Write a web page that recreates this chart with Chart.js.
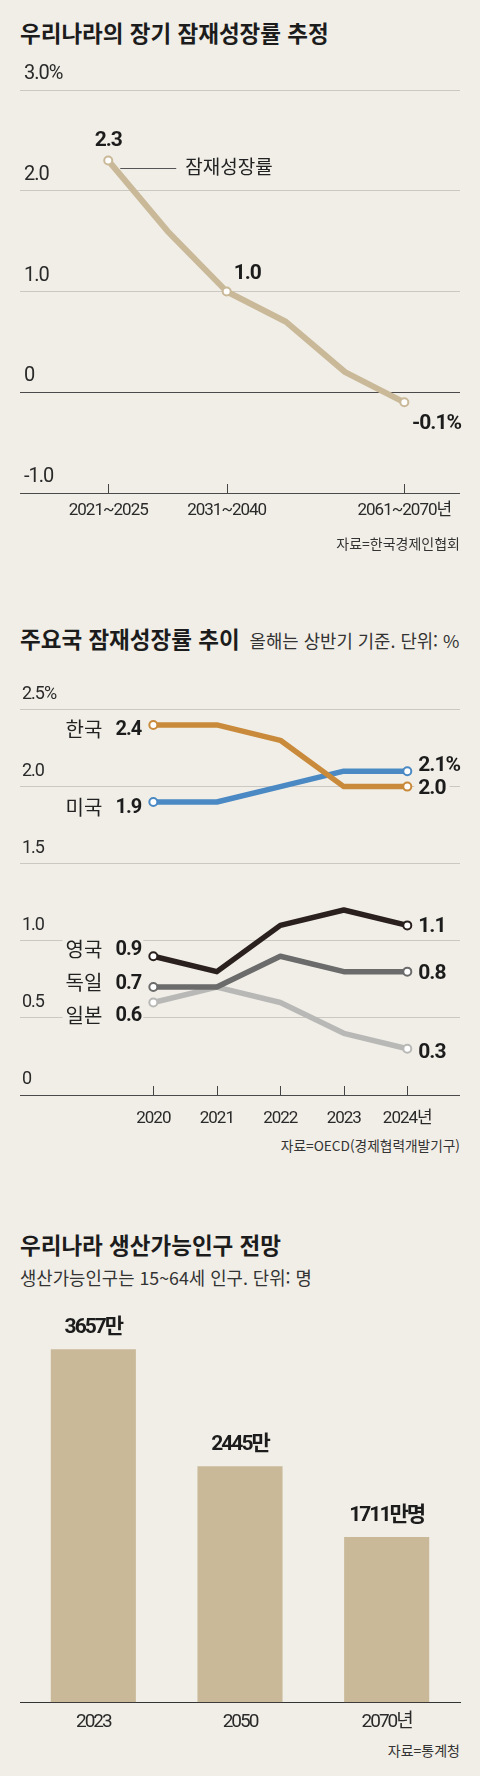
<!DOCTYPE html>
<html lang="ko">
<head>
<meta charset="utf-8">
<script src="https://cdn.jsdelivr.net/npm/chart.js@4.4.1/dist/chart.umd.min.js"></script>
<style>
  html, body { margin: 0; padding: 0; background: #f1eee7; }
  body { width: 480px; height: 1776px; position: relative; overflow: hidden;
         font-family: 'Noto Sans CJK KR', sans-serif; color: #1c1c1c; }
  .t { position: absolute; left: 20px; white-space: nowrap; line-height: 30px; }
  .title { font-weight: 700; font-size: 22.5px; }
  .sub { font-size: 17.8px; font-weight: 400; color: #333; }
  .src { position: absolute; right: 20px; font-size: 14px; color: #333; line-height: 30px; white-space: nowrap; }
  canvas { position: absolute; left: 0; }
</style>
</head>
<body>
<div class="t title" style="top:17px">우리나라의 장기 잠재성장률 추정</div>
<canvas id="c1" width="480" height="480" style="top:50px"></canvas>
<div class="src" style="top:528px">자료=한국경제인협회</div>

<div class="t title" style="top:623px">주요국 잠재성장률 추이<span class="sub" style="margin-left:10px">올해는 상반기 기준. 단위: %</span></div>
<canvas id="c2" width="480" height="470" style="top:660px"></canvas>
<div class="src" style="top:1130px;font-size:13.7px">자료=OECD(경제협력개발기구)</div>

<div class="t title" style="top:1229px">우리나라 생산가능인구 전망</div>
<div class="t sub" style="top:1262px">생산가능인구는 15~64세 인구. 단위: 명</div>
<canvas id="c3" width="480" height="440" style="top:1295px"></canvas>
<div class="src" style="top:1735px">자료=통계청</div>

<script>
// 장기 잠재성장률 추정
var growthPeriods = ['2021~2025', '2026~2030', '2031~2040', '2041~2050', '2051~2060', '2061~2070년'];
var growthRates = [2.3, 1.6, 1.0, 0.7, 0.2, -0.1];
var growthShown = [0, 2, 5];
var growthTicks = [-1, 0, 1, 2, 3];
var growthTickLabels = ['-1.0', '0', '1.0', '2.0', '3.0%'];

// 주요국 잠재성장률 추이
var years = ['2020', '2021', '2022', '2023', '2024년'];
var countries = ['한국', '미국', '영국', '독일', '일본'];
var korea = [2.4, 2.4, 2.3, 2.0, 2.0];
var usa = [1.9, 1.9, 2.0, 2.1, 2.1];
var uk = [0.9, 0.8, 1.1, 1.2, 1.1];
var germany = [0.7, 0.7, 0.9, 0.8, 0.8];
var japan = [0.6, 0.7, 0.6, 0.4, 0.3];
var peerTicks = [0, 0.5, 1, 1.5, 2, 2.5];
var peerTickLabels = ['0', '0.5', '1.0', '1.5', '2.0', '2.5%'];

// 생산가능인구 전망
var popYears = ['2023', '2050', '2070년'];
var popValues = [3657, 2445, 1711];
var popLabels = ['3657만', '2445만', '1711만명'];

var bg = '#f1eee7';
var tan = '#c9b998';
var ink = '#1c1c1c';
var num = "Roboto, 'Noto Sans CJK KR', sans-serif";
var gothic = "'Noto Sans CJK KR', sans-serif";

function gridColor(c) {
  return c.tick.value <= 0 ? '#4a4a4a' : '#cbc8c1';
}

// tight digits like the newspaper face
function tightText(spacing) {
  return {
    id: 'tightText',
    beforeDraw: function (chart) { chart.ctx.letterSpacing = spacing; }
  };
}

function tickMarks(chart, values) {
  var ctx = chart.ctx;
  var x = chart.scales.x;
  var bottom = chart.chartArea.bottom;
  ctx.save();
  ctx.strokeStyle = '#444';
  ctx.lineWidth = 1;
  values.forEach(function (v) {
    var px = Math.round(x.getPixelForValue(v)) + 0.5;
    ctx.beginPath();
    ctx.moveTo(px, bottom - 9);
    ctx.lineTo(px, bottom);
    ctx.stroke();
  });
  ctx.restore();
}

// chart 1
new Chart(document.getElementById('c1'), {
  type: 'line',
  data: {
    datasets: [{
      data: growthRates.map(function (v, i) { return { x: i, y: v }; }),
      borderColor: tan,
      borderWidth: 6,
      borderJoinStyle: 'round',
      borderCapStyle: 'round',
      tension: 0,
      pointRadius: function (c) { return growthShown.indexOf(c.dataIndex) >= 0 ? 4 : 0; },
      pointBackgroundColor: '#fff',
      pointBorderColor: tan,
      pointBorderWidth: 2,
      clip: false
    }]
  },
  options: {
    responsive: false,
    animation: false,
    events: [],
    layout: { padding: { top: 40, left: 20, right: 20, bottom: 0 } },
    plugins: { legend: { display: false }, tooltip: { enabled: false } },
    scales: {
      x: {
        type: 'linear', min: -1.49, max: 5.94,
        afterBuildTicks: function (s) { s.ticks = growthShown.map(function (i) { return { value: i }; }); },
        afterFit: function (s) { s.height = 37; },
        grid: { display: false, drawTicks: false },
        border: { display: false },
        ticks: {
          padding: 7.5, maxRotation: 0, autoSkip: false, color: '#2a2a2a',
          font: { family: num, size: 17 },
          callback: function (v) { return growthPeriods[v]; }
        }
      },
      y: {
        min: -1, max: 3,
        afterBuildTicks: function (s) { s.ticks = growthTicks.map(function (v) { return { value: v }; }); },
        afterFit: function (s) { s.width = 0; },
        border: { display: false },
        grid: { drawTicks: false, color: gridColor, lineWidth: 1 },
        ticks: {
          mirror: true, padding: 4, labelOffset: -16, color: '#2a2a2a',
          font: { family: num, size: 20 },
          callback: function (v) { return growthTickLabels[growthTicks.indexOf(v)]; }
        }
      }
    }
  },
  plugins: [tightText('-1px'), {
    id: 'growthNotes',
    beforeDatasetsDraw: function (chart) { tickMarks(chart, growthShown); },
    afterDatasetsDraw: function (chart) {
      var ctx = chart.ctx;
      var pts = chart.getDatasetMeta(0).data;
      var a = pts[0], b = pts[2], c = pts[5];
      ctx.save();
      ctx.fillStyle = ink;
      ctx.textBaseline = 'middle';
      ctx.letterSpacing = '-1px';
      ctx.font = 'bold 21px ' + num;
      ctx.textAlign = 'center';
      ctx.fillText(growthRates[0].toFixed(1), a.x, a.y - 20);
      ctx.textAlign = 'left';
      ctx.fillText(growthRates[2].toFixed(1), b.x + 7, b.y - 18);
      ctx.textAlign = 'right';
      ctx.fillText(growthRates[5].toFixed(1) + '%', chart.chartArea.right + 1, c.y + 21);
      // series name with leader line
      ctx.strokeStyle = '#555';
      ctx.lineWidth = 1;
      ctx.beginPath();
      ctx.moveTo(a.x + 12, Math.round(a.y + 7) + 0.5);
      ctx.lineTo(a.x + 68, Math.round(a.y + 7) + 0.5);
      ctx.stroke();
      ctx.letterSpacing = '0px';
      ctx.font = '19px ' + gothic;
      ctx.textAlign = 'left';
      ctx.fillStyle = '#222';
      ctx.fillText('잠재성장률', a.x + 77, a.y + 6);
      ctx.restore();
    }
  }]
});

// chart 2
var peerValues = [korea, usa, uk, germany, japan];
var peerColors = ['#c98a3b', '#4a89c3', '#2a201e', '#6b6b6b', '#b8b8b6'];
var peerLabelShift = [
  { left: 5, right: 2, unit: '' },
  { left: 6, right: -5, unit: '%' },
  { left: -6, right: 1, unit: '' },
  { left: -3.5, right: 2, unit: '' },
  { left: 13.5, right: 4, unit: '' }
];

new Chart(document.getElementById('c2'), {
  type: 'line',
  data: {
    datasets: countries.map(function (name, i) {
      return {
        label: name,
        data: peerValues[i].map(function (v, j) { return { x: j, y: v }; }),
        borderColor: peerColors[i],
        borderWidth: 5.5,
        borderJoinStyle: 'round',
        tension: 0,
        order: i,
        pointRadius: function (c) { return (c.dataIndex === 0 || c.dataIndex === years.length - 1) ? 4 : 0; },
        pointBackgroundColor: '#fff',
        pointBorderColor: peerColors[i],
        pointBorderWidth: 2,
        clip: false
      };
    })
  },
  options: {
    responsive: false,
    animation: false,
    events: [],
    layout: { padding: { top: 49.5, left: 20, right: 20, bottom: 0 } },
    plugins: { legend: { display: false }, tooltip: { enabled: false } },
    scales: {
      x: {
        type: 'linear', min: -2.1, max: 4.83,
        afterBuildTicks: function (s) { s.ticks = years.map(function (y, i) { return { value: i }; }); },
        afterFit: function (s) { s.height = 35; },
        grid: { display: false, drawTicks: false },
        border: { display: false },
        ticks: {
          padding: 13.5, maxRotation: 0, autoSkip: false, color: '#2a2a2a',
          font: { family: num, size: 17 },
          callback: function (v) { return years[v]; }
        }
      },
      y: {
        min: 0, max: 2.5,
        afterBuildTicks: function (s) { s.ticks = peerTicks.map(function (v) { return { value: v }; }); },
        afterFit: function (s) { s.width = 0; },
        border: { display: false },
        grid: { drawTicks: false, color: gridColor, lineWidth: 1 },
        ticks: {
          mirror: true, padding: 2, labelOffset: -15.5, color: '#2a2a2a',
          font: { family: num, size: 18 },
          callback: function (v) { return peerTickLabels[peerTicks.indexOf(v)]; }
        }
      }
    }
  },
  plugins: [tightText('-1px'), {
    id: 'peerNotes',
    beforeDatasetsDraw: function (chart) { tickMarks(chart, years.map(function (y, i) { return i; })); },
    afterDatasetsDraw: function (chart) {
      var ctx = chart.ctx;
      var items = [];
      chart.data.datasets.forEach(function (ds, i) {
        var pts = chart.getDatasetMeta(i).data;
        var first = pts[0], last = pts[pts.length - 1];
        var vals = peerValues[i];
        items.push({
          name: ds.label,
          startText: vals[0].toFixed(1),
          endText: vals[vals.length - 1].toFixed(1) + peerLabelShift[i].unit,
          sx: first.x, sy: first.y + peerLabelShift[i].left,
          ex: last.x, ey: last.y + peerLabelShift[i].right
        });
      });
      ctx.save();
      // knock out grid lines behind labels
      ctx.fillStyle = bg;
      items.forEach(function (it) {
        ctx.letterSpacing = '0px';
        ctx.font = '20px ' + gothic;
        var nw = ctx.measureText(it.name).width;
        ctx.fillRect(it.sx - 51 - nw - 3, it.sy - 11, nw + 44, 22);
        ctx.letterSpacing = '-1px';
        ctx.font = 'bold 21px ' + num;
        var ew = ctx.measureText(it.endText).width;
        ctx.fillRect(it.ex + 7, it.ey - 10, ew + 8, 20);
      });
      ctx.textBaseline = 'middle';
      items.forEach(function (it) {
        ctx.fillStyle = '#222';
        ctx.textAlign = 'right';
        ctx.letterSpacing = '0px';
        ctx.font = '20px ' + gothic;
        ctx.fillText(it.name, it.sx - 51, it.sy - 1);
        ctx.fillStyle = ink;
        ctx.letterSpacing = '-1px';
        ctx.font = 'bold 20px ' + num;
        ctx.fillText(it.startText, it.sx - 12, it.sy);
        ctx.textAlign = 'left';
        ctx.font = 'bold 21px ' + num;
        ctx.fillText(it.endText, it.ex + 11, it.ey);
      });
      ctx.restore();
    }
  }]
});

// chart 3
new Chart(document.getElementById('c3'), {
  type: 'bar',
  data: {
    labels: popYears,
    datasets: [{
      data: popValues,
      backgroundColor: tan,
      barPercentage: 0.58,
      categoryPercentage: 1
    }]
  },
  options: {
    responsive: false,
    animation: false,
    events: [],
    layout: { padding: { top: 21, left: 20, right: 20, bottom: 0 } },
    plugins: { legend: { display: false }, tooltip: { enabled: false } },
    scales: {
      x: {
        z: 1,
        afterFit: function (s) { s.height = 32.7; },
        grid: { display: false, drawTicks: false },
        border: { display: true, color: '#333', width: 1 },
        ticks: { padding: 9, color: '#2a2a2a', font: { family: num, size: 19 } }
      },
      y: { display: false, min: 0, max: 4000 }
    }
  },
  plugins: [tightText('-2px'), {
    id: 'popNotes',
    afterDatasetsDraw: function (chart) {
      var ctx = chart.ctx;
      ctx.save();
      ctx.fillStyle = ink;
      ctx.textAlign = 'center';
      ctx.textBaseline = 'middle';
      ctx.letterSpacing = '-2px';
      ctx.font = 'bold 21px ' + num;
      chart.getDatasetMeta(0).data.forEach(function (bar, i) {
        ctx.fillText(popLabels[i], bar.x, bar.y - 21);
      });
      ctx.restore();
    }
  }]
});
</script>
</body>
</html>
